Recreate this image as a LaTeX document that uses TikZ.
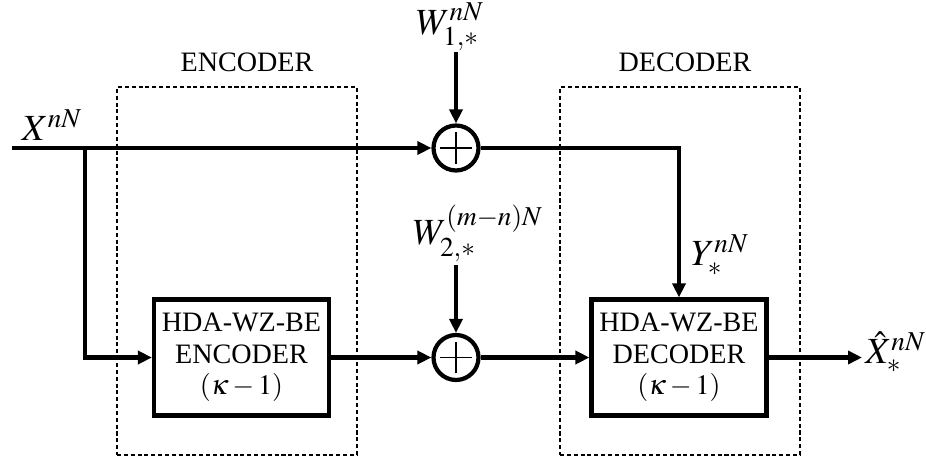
\documentclass[tikz,border=0pt]{standalone}
\usepackage{mathptmx}
\usepackage{fontspec}
\setmainfont{Liberation Serif}
\usetikzlibrary{arrows.meta, positioning}

\begin{document}
\begin{tikzpicture}[
    x=0.02cm, y=-0.02cm,
    every node/.style={font=\fontsize{16}{18}\selectfont, align=center, inner sep=0pt},
    blk/.style={
        draw,
        line width=2.4pt,
        minimum width=3.5cm,
        minimum height=2.32cm,
        text centered
    },
    sum/.style={
        draw,
        circle,
        line width=2.4pt,
        minimum size=0.9cm,
        path picture={
            \draw[line width=1pt]
                ([xshift=-0.32cm]path picture bounding box.center) -- ([xshift=0.32cm]path picture bounding box.center)
                ([yshift=-0.32cm]path picture bounding box.center) -- ([yshift=0.32cm]path picture bounding box.center);
        }
    },
    grp/.style={
        draw,
        line width=1.1pt,
        dash pattern=on 2.3pt off 1.6pt,
        minimum width=4.8cm,
        minimum height=7.36cm
    },
    lbl/.style={font=\fontsize{21}{23}\selectfont},
    arrow/.style={
        -{Triangle[length=0.28cm, width=0.26cm]},
        line width=2.3pt
    }
]
\useasboundingbox (0,0) rectangle (926,462);

% dashed groups
\node[grp] (encgrp) at (237,271) {};
\node[grp] (decgrp) at (680,271) {};
\node (enctitle) at (247,62.5) {ENCODER};
\node (dectitle) at (685,62.5) {DECODER};

% blocks
\node[blk] (enc) at (241.5,357.5) {HDA-WZ-BE\\ENCODER\\$(\kappa-1)$};
\node[blk] (dec) at (679,357.5) {HDA-WZ-BE\\DECODER\\$(\kappa-1)$};
\node[sum] (sum1) at (456,148) {};
\node[sum] (sum2) at (456,357.5) {};

% signals
\coordinate (in) at (12,148);
\coordinate (tap) at (85,148);
\coordinate (w1) at (456,52);
\coordinate (w2) at (456,265);
\coordinate (out) at (862,357.5);
\node[lbl] (xlbl) at (52,125) {$X^{nN}$};
\node[lbl] (w1lbl) at (450,27) {$W^{nN}_{1,*}$};
\node[lbl] (w2lbl) at (478,233) {$W^{(m-n)N}_{2,*}$};
\node[lbl] (ylbl) at (720,255) {$Y^{nN}_{*}$};
\node[lbl, anchor=west] (xhat) at (865,352) {$\hat{X}^{nN}_{*}$};

\draw[arrow] (in) -- (sum1);
\draw[arrow] (tap) |- (enc);
\draw[arrow] (w1) -- (sum1);
\draw[arrow] (w2) -- (sum2);
\draw[arrow] (enc) -- (sum2);
\draw[arrow] (sum2) -- (dec);
\draw[arrow] (sum1) -| (dec);
\draw[arrow] (dec) -- (out);

\end{tikzpicture}
\end{document}
